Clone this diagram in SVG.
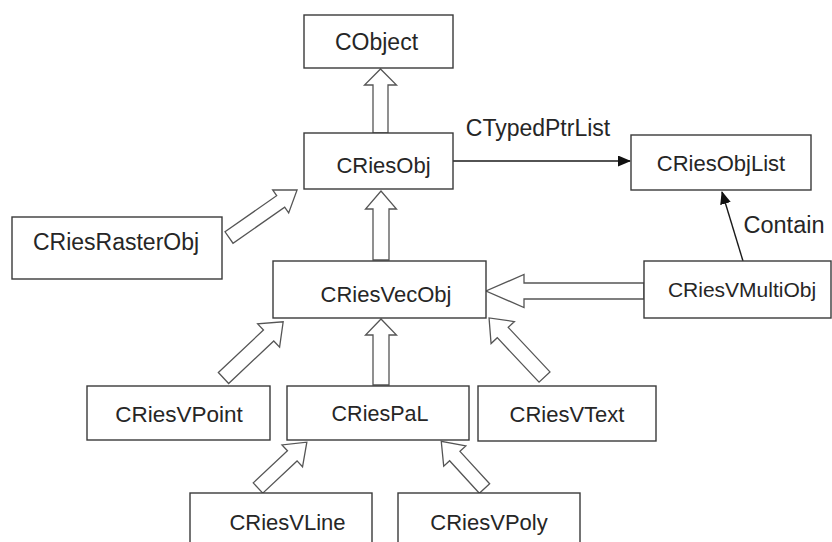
<svg xmlns="http://www.w3.org/2000/svg" width="832" height="542" viewBox="0 0 832 542">
<style>
.box{fill:#fff;stroke:#3a3a3a;stroke-width:1.4}
.lbl{font-family:"Liberation Sans",Arial,sans-serif;font-size:22px;fill:#262626;text-anchor:middle}
.blk{fill:#fff;stroke:#555;stroke-width:1.3;stroke-linejoin:miter}
.ln{stroke:#1a1a1a;stroke-width:1.4;fill:none}
</style>
<defs>
<marker id="tri" markerUnits="userSpaceOnUse" markerWidth="13" markerHeight="11" refX="12" refY="5.5" orient="auto">
<path d="M0,0 L13,5.5 L0,11 Z" fill="#111"/>
</marker>
</defs>
<rect width="832" height="542" fill="#fff"/>
<g id="connectors">
<path class="blk" transform="translate(380.5,133) rotate(-90)" d="M0,-7.5 L48,-7.5 L48,-16 L64,0 L48,16 L48,7.5 L0,7.5 Z"/>
<path class="blk" transform="translate(381,260) rotate(-90)" d="M0,-8 L51,-8 L51,-15.5 L69,0 L51,15.5 L51,8 L0,8 Z"/>
<path class="blk" transform="translate(381,385) rotate(-90)" d="M0,-8 L50,-8 L50,-15.5 L66,0 L50,15.5 L50,8 L0,8 Z"/>
<path class="blk" transform="translate(644,291) rotate(180)" d="M0,-8 L120,-8 L120,-16.5 L158,0 L120,16.5 L120,8 L0,8 Z"/>
<path class="blk" transform="translate(229,237.5) rotate(-34.9)" d="M0,-7 L63,-7 L63,-14 L83,0 L63,14 L63,7 L0,7 Z"/>
<path class="blk" transform="translate(223.5,378) rotate(-43.3)" d="M0,-7.5 L62,-7.5 L62,-16 L82,0 L62,16 L62,7.5 L0,7.5 Z"/>
<path class="blk" transform="translate(544.5,377) rotate(-133.2)" d="M0,-7.5 L61,-7.5 L61,-16 L81,0 L61,16 L61,7.5 L0,7.5 Z"/>
<path class="blk" transform="translate(258,488) rotate(-43.2)" d="M0,-7 L47,-7 L47,-15 L67,0 L47,15 L47,7 L0,7 Z"/>
<path class="blk" transform="translate(484.5,488.5) rotate(-132.5)" d="M0,-7 L44,-7 L44,-15 L64,0 L44,15 L44,7 L0,7 Z"/>
<line class="ln" x1="453" y1="161" x2="630" y2="161" marker-end="url(#tri)"/>
<text class="lbl" x="538" y="136" style="font-size:23px">CTypedPtrList</text>
<line class="ln" x1="743" y1="261" x2="722" y2="192" marker-end="url(#tri)"/>
<text class="lbl" x="784" y="233" style="font-size:23.5px">Contain</text>
</g>
<g id="CObject"><rect class="box" x="304" y="15" width="149" height="53"/><text class="lbl" x="376.5" y="50" style="font-size:23px">CObject</text></g>
<g id="CRiesObj"><rect class="box" x="304" y="133" width="149" height="56"/><text class="lbl" x="383.5" y="173">CRiesObj</text></g>
<g id="CRiesObjList"><rect class="box" x="631" y="135" width="180" height="55"/><text class="lbl" x="721" y="171">CRiesObjList</text></g>
<g id="CRiesRasterObj"><rect class="box" x="12" y="217" width="210" height="62"/><text class="lbl" x="116" y="250" style="font-size:23px">CRiesRasterObj</text></g>
<g id="CRiesVecObj"><rect class="box" x="273" y="261" width="213" height="57"/><text class="lbl" x="386" y="302">CRiesVecObj</text></g>
<g id="CRiesVMultiObj"><rect class="box" x="644" y="261" width="187" height="57"/><text class="lbl" x="742" y="297" style="font-size:21px">CRiesVMultiObj</text></g>
<g id="CRiesVPoint"><rect class="box" x="87" y="386" width="183" height="54"/><text class="lbl" x="179" y="422" style="font-size:22.5px">CRiesVPoint</text></g>
<g id="CRiesPaL"><rect class="box" x="287" y="386" width="182" height="54"/><text class="lbl" x="380" y="421" style="font-size:21.5px">CRiesPaL</text></g>
<g id="CRiesVText"><rect class="box" x="478" y="386" width="178" height="55"/><text class="lbl" x="567" y="422">CRiesVText</text></g>
<g id="CRiesVLine"><rect class="box" x="190" y="493" width="182" height="70"/><text class="lbl" x="287.5" y="530">CRiesVLine</text></g>
<g id="CRiesVPoly"><rect class="box" x="398" y="493" width="182" height="70"/><text class="lbl" x="489" y="530">CRiesVPoly</text></g>
</svg>
